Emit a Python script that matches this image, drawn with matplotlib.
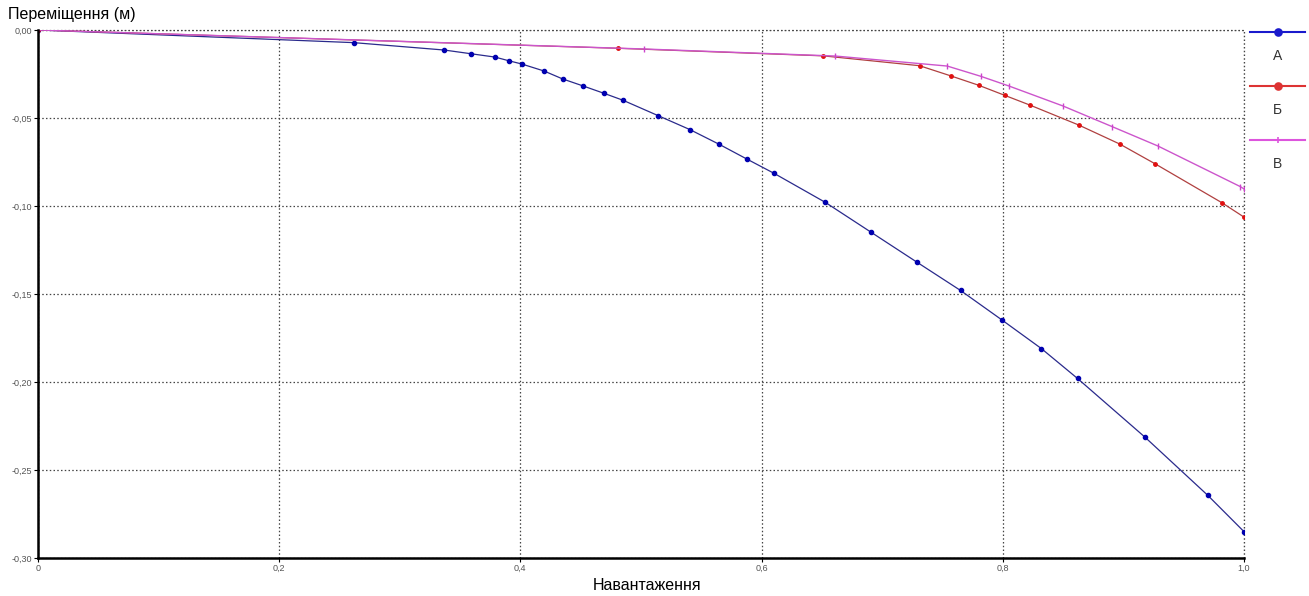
import matplotlib.pyplot as plt
from matplotlib.lines import Line2D
from matplotlib.ticker import FuncFormatter

plt.rcParams['font.family'] = ['Liberation Sans', 'DejaVu Sans']

# Series A (blue)
a_x = [0, 0.262, 0.337, 0.359, 0.379, 0.3905, 0.401, 0.4196, 0.435, 0.452, 0.469,
       0.485, 0.514, 0.5406, 0.565, 0.588, 0.6105, 0.653, 0.691, 0.729, 0.765,
       0.799, 0.832, 0.862, 0.918, 0.970, 1.0]
a_y = [0, -0.0072, -0.0114, -0.0135, -0.0154, -0.0175, -0.0193, -0.0233, -0.0278,
       -0.0318, -0.0359, -0.0399, -0.0486, -0.0566, -0.065, -0.0734, -0.0815,
       -0.098, -0.115, -0.132, -0.148, -0.1646, -0.181, -0.198, -0.2314, -0.2644,
       -0.285]

# Series Б (red)
b_x = [0, 0.481, 0.651, 0.731, 0.757, 0.780, 0.8015, 0.823, 0.863, 0.897, 0.9265,
       0.9816, 1.0]
b_y = [0, -0.0104, -0.0147, -0.0203, -0.0261, -0.0314, -0.0371, -0.0428, -0.054,
       -0.0648, -0.0761, -0.0981, -0.1063]

# Series В (magenta)
c_x = [0, 0.5025, 0.661, 0.754, 0.7817, 0.805, 0.850, 0.891, 0.9286, 0.997, 1.0]
c_y = [0, -0.0108, -0.0148, -0.0205, -0.0263, -0.0318, -0.0432, -0.055, -0.0659,
       -0.089, -0.0903]

labels = ['А', 'Б', 'В']
x_ticks = [0, 0.2, 0.4, 0.6, 0.8, 1.0]
y_ticks = [0, -0.05, -0.10, -0.15, -0.20, -0.25, -0.30]

fig = plt.figure(figsize=(13.09, 5.96), dpi=100)
ax = fig.add_axes([0.029, 0.0638, 0.9213, 0.8859])

ax.plot(a_x, a_y, '-', color='#2a2a8c', lw=0.9, marker='o', ms=3,
        mfc='#0000b0', mec='#0000b0')
ax.plot(b_x, b_y, '-', color='#b04040', lw=0.9, marker='o', ms=2.5,
        mfc='#e01010', mec='#e01010')
ax.plot(c_x, c_y, '-', color='#cc55cc', lw=1.0, marker='|', ms=5,
        mec='#cc44cc', mew=1.0)

ax.set_xlim(0, 1.0)
ax.set_ylim(-0.30, 0)
ax.set_xticks(x_ticks)
ax.set_yticks(y_ticks)

fmt_x = FuncFormatter(lambda v, p: '0' if v == 0 else f'{v:.1f}'.replace('.', ','))
fmt_y = FuncFormatter(lambda v, p: f'{v:.2f}'.replace('.', ',').replace('-0,00', '0,00'))
ax.xaxis.set_major_formatter(fmt_x)
ax.yaxis.set_major_formatter(fmt_y)
ax.tick_params(labelsize=6.5, labelcolor='#555555', length=3, width=0.8, pad=1.5)

grid_style = dict(linestyle=(0, (1.2, 1.8)), color='#444444', lw=0.9)
ax.grid(True, **grid_style)
# border gridlines at the right/top edges, kept fully visible
ax.axvline(x_ticks[-1], clip_on=False, zorder=0.5, **grid_style)
ax.axhline(y_ticks[0], clip_on=False, zorder=0.5, **grid_style)
for side in ['top', 'right']:
    ax.spines[side].set_visible(False)
for side in ['left', 'bottom']:
    ax.spines[side].set_linewidth(1.8)
    ax.spines[side].set_color('black')

fig.text(0.006, 0.975, 'Переміщення (м)', fontsize=11.5, ha='left', va='center')
fig.text(0.494, 0.018, 'Навантаження', fontsize=11.5, ha='center', va='center')

# legend: line with marker, label under it
leg_colors = ['#1a1acc', '#dd3333', '#dd55dd']
leg_markers = ['o', 'o', '|']
x0, x1 = 1250 / 1309, 1305 / 1309
for i, lab in enumerate(labels):
    yl = 1 - (32 + i * 54) / 596
    fig.add_artist(Line2D([x0, x1], [yl, yl], transform=fig.transFigure,
                          color=leg_colors[i], lw=1.5))
    fig.add_artist(Line2D([(x0 + x1) / 2], [yl], transform=fig.transFigure,
                          color=leg_colors[i], marker=leg_markers[i], ms=5,
                          mew=1.2, lw=0))
    fig.text((x0 + x1) / 2, yl - 24 / 596, lab, fontsize=10, ha='center',
             va='center', color='#333333')

fig.savefig('out.png', dpi=100)
